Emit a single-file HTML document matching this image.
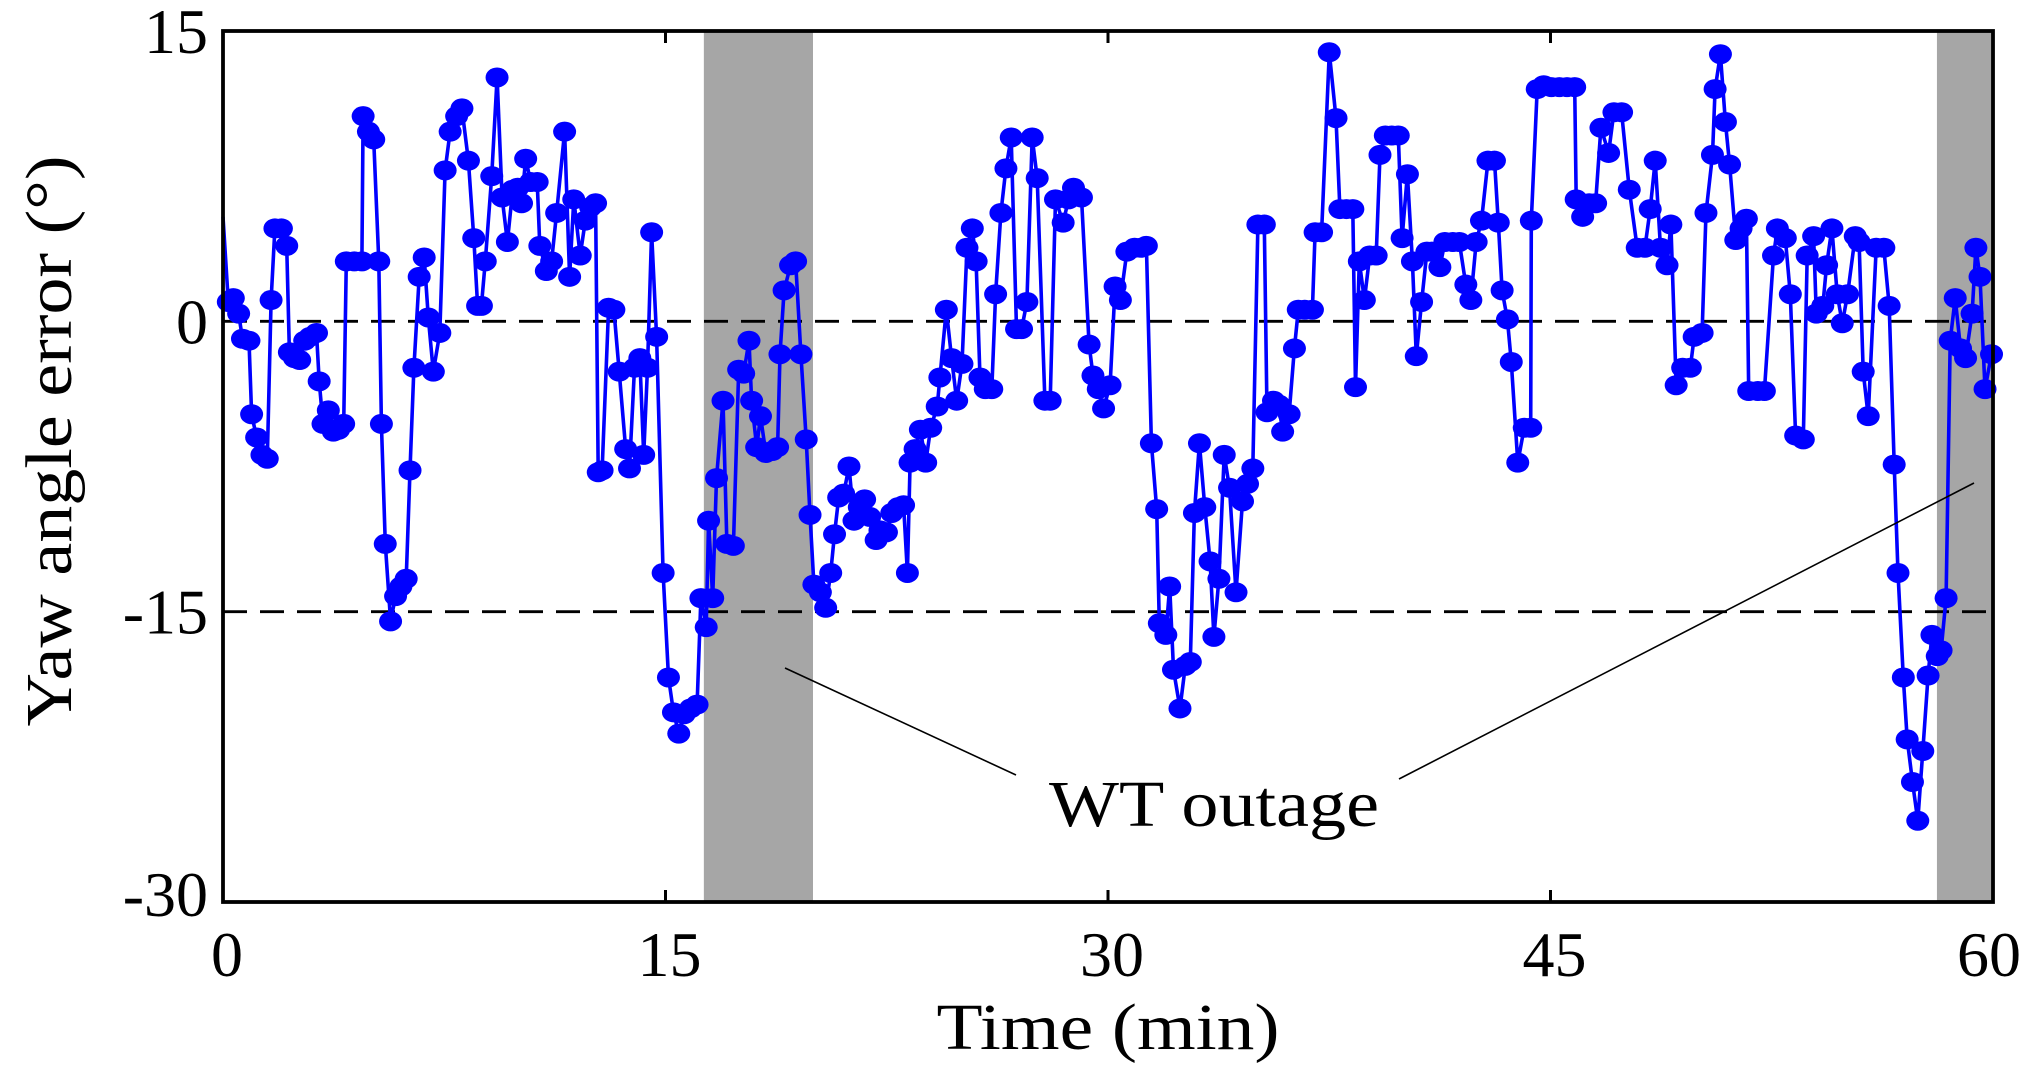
<!DOCTYPE html>
<html><head><meta charset="utf-8"><style>
html,body{margin:0;padding:0;background:#fff}
svg{display:block}
text{font-family:"Liberation Serif",serif;fill:#000}
</style></head><body>
<svg id="chart" width="2035" height="1081" viewBox="0 0 2035 1081" xmlns="http://www.w3.org/2000/svg">
<g id="shade"></g>
<g id="grid"></g>
<g id="series"></g>
<g id="axes"></g>
<text x="0" y="0" font-size="66" text-anchor="middle" textLength="571" lengthAdjust="spacingAndGlyphs" transform="translate(71,441) rotate(-90)">Yaw angle error (°)</text>
<text x="1108" y="1049" font-size="66" text-anchor="middle" textLength="343" lengthAdjust="spacingAndGlyphs">Time (min)</text>
<text x="1214" y="826" font-size="66" text-anchor="middle" textLength="330" lengthAdjust="spacingAndGlyphs">WT outage</text>
<line x1="785" y1="668" x2="1016" y2="775" stroke="#000" stroke-width="1.6"/>
<line x1="1399" y1="779" x2="1974" y2="483" stroke="#000" stroke-width="1.6"/>
</svg>
<script>
const times=[0,0.18,0.35,0.53,0.66,0.88,0.97,1.14,1.32,1.50,1.63,1.76,1.98,2.16,2.25,2.42,2.60,2.77,2.95,3.17,3.26,3.39,3.57,3.74,3.92,4.09,4.18,4.45,4.71,4.75,4.93,5.11,5.28,5.37,5.50,5.68,5.85,6.03,6.21,6.34,6.47,6.65,6.82,6.96,7.13,7.35,7.53,7.70,7.92,8.10,8.32,8.50,8.63,8.76,8.89,9.11,9.29,9.46,9.64,9.82,9.99,10.12,10.26,10.43,10.65,10.74,10.96,11.14,11.31,11.58,11.75,11.89,12.11,12.28,12.46,12.63,12.72,12.85,13.07,13.25,13.43,13.65,13.78,13.95,14.13,14.26,14.39,14.53,14.70,14.92,15.10,15.27,15.45,15.63,15.85,16.07,16.20,16.38,16.46,16.60,16.73,16.95,17.08,17.30,17.48,17.65,17.83,17.92,18.09,18.22,18.40,18.62,18.80,18.88,19.02,19.24,19.41,19.59,19.77,19.90,20.03,20.25,20.43,20.60,20.73,20.87,21.04,21.22,21.39,21.57,21.75,21.92,22.14,22.27,22.49,22.67,22.89,23.07,23.20,23.29,23.46,23.64,23.82,23.99,24.21,24.30,24.52,24.70,24.87,25.05,25.22,25.40,25.53,25.66,25.84,26.06,26.19,26.37,26.54,26.72,26.90,27.07,27.25,27.43,27.60,27.86,28.04,28.22,28.48,28.66,28.83,29.10,29.36,29.49,29.67,29.85,30.07,30.24,30.42,30.64,30.90,31.12,31.30,31.47,31.65,31.74,31.96,32.09,32.22,32.44,32.62,32.79,32.93,33.10,33.28,33.46,33.59,33.76,33.94,34.12,34.34,34.56,34.73,34.91,35.08,35.30,35.39,35.61,35.79,35.92,36.14,36.32,36.45,36.67,36.93,37.02,37.24,37.50,37.73,37.86,38.08,38.30,38.39,38.52,38.69,38.87,39.09,39.22,39.40,39.62,39.84,39.97,40.15,40.32,40.45,40.63,40.81,40.98,41.25,41.42,41.69,41.91,42.13,42.30,42.48,42.66,42.88,43.10,43.23,43.36,43.54,43.67,43.89,44.11,44.33,44.35,44.55,44.77,45.03,45.30,45.56,45.82,45.87,46.09,46.31,46.53,46.71,46.97,47.15,47.41,47.67,47.94,48.20,48.38,48.55,48.73,48.95,49.08,49.26,49.48,49.74,49.87,50.14,50.27,50.49,50.58,50.76,50.93,51.07,51.28,51.46,51.64,51.72,52.03,52.25,52.56,52.69,52.96,53.13,53.31,53.57,53.70,53.92,54.01,54.23,54.36,54.54,54.72,54.89,55.07,55.33,55.46,55.60,55.77,56.04,56.30,56.48,56.65,56.78,56.96,57.09,57.27,57.45,57.62,57.80,57.93,58.11,58.24,58.41,58.55,58.72,58.90,59.07,59.29,59.42,59.56,59.73,59.95];
const yawError=[5.4,1.0,1.2,0.4,-0.9,-1.0,-4.8,-6.0,-6.9,-7.1,1.1,4.8,4.8,3.9,-1.6,-1.9,-2.0,-1.0,-0.8,-0.6,-3.1,-5.3,-4.6,-5.7,-5.6,-5.3,3.1,3.1,3.1,10.6,9.8,9.4,3.1,-5.3,-11.5,-15.5,-14.2,-13.7,-13.3,-7.7,-2.4,2.3,3.3,0.2,-2.6,-0.6,7.8,9.8,10.6,11.0,8.3,4.3,0.8,0.8,3.1,7.5,12.6,6.4,4.1,6.8,6.9,6.1,8.4,7.2,7.2,3.9,2.6,3.1,5.6,9.8,2.3,6.3,3.4,5.2,5.9,6.1,-7.8,-7.7,0.7,0.6,-2.6,-6.6,-7.6,-2.4,-1.9,-6.9,-2.4,4.6,-0.8,-13.0,-18.4,-20.2,-21.3,-20.3,-20.0,-19.8,-14.3,-15.8,-10.3,-14.3,-8.1,-4.1,-11.5,-11.6,-2.5,-2.7,-1.0,-4.1,-6.5,-4.9,-6.8,-6.7,-6.5,-1.7,1.6,2.9,3.1,-1.7,-6.1,-10.0,-13.6,-14.0,-14.8,-13.0,-11.0,-9.1,-8.9,-7.5,-10.3,-9.6,-9.2,-10.1,-11.3,-10.8,-10.9,-9.9,-9.6,-9.5,-13.0,-7.3,-6.6,-5.6,-7.3,-5.5,-4.4,-2.9,0.6,-1.9,-4.1,-2.2,3.8,4.8,3.1,-2.9,-3.5,-3.5,1.4,5.6,7.9,9.5,-0.4,-0.4,1.0,9.5,7.4,-4.1,-4.1,6.3,5.1,6.3,6.9,6.4,-1.2,-2.8,-3.5,-4.5,-3.3,1.8,1.1,3.6,3.8,3.8,3.9,-6.3,-9.7,-15.6,-16.2,-13.7,-18.0,-20.0,-17.8,-17.6,-9.9,-6.3,-9.6,-12.4,-16.3,-13.3,-6.9,-8.6,-14.0,-9.3,-8.4,-7.6,5.0,5.0,-4.7,-4.1,-4.3,-5.7,-4.8,-1.4,0.6,0.6,0.6,4.6,4.6,13.9,10.5,5.8,5.8,5.8,-3.4,3.1,1.1,3.4,3.4,8.6,9.6,9.6,9.6,4.3,7.6,3.1,-1.8,1.0,3.6,3.6,2.8,4.1,4.1,4.1,1.9,1.1,4.1,5.2,8.3,8.3,5.1,1.6,0.1,-2.1,-7.3,-5.5,-5.5,5.2,12.0,12.2,12.1,12.1,12.1,12.1,6.3,5.4,6.1,6.1,10.0,8.7,10.8,10.8,6.8,3.8,3.8,5.8,8.3,3.8,2.9,5.0,-3.3,-2.4,-2.4,-0.8,-0.6,5.6,8.6,12.0,13.8,10.3,8.1,4.2,4.8,5.3,-3.6,-3.6,-3.6,3.4,4.8,4.3,1.4,-5.9,-6.1,3.4,4.4,0.4,0.8,2.9,4.8,1.4,-0.1,1.4,4.4,4.1,-2.6,-4.9,3.8,3.8,0.8,-7.4,-13.0,-18.4,-21.6,-23.8,-25.8,-22.2,-18.3,-16.2,-17.3,-17.0,-14.3,-1.0,1.2,-1.4,-1.9,0.4,3.8,2.3,-3.5,-1.7];
const outageStarts=[16.3,58.1];
const outageEnds=[20.0,60];
const refLines=[0,-15];
const xTicks=[0,15,30,45,60];
const yTicks=[15,0,-15,-30];
const yTickLabels=["15","0","-15","-30"];

const NS="http://www.w3.org/2000/svg";
const L=223,R=1993,T=31,B=902,X0=0,X1=60,Y0=-30,Y1=15;
const xs=v=>L+(v-X0)/(X1-X0)*(R-L);
const ys=v=>B-(v-Y0)/(Y1-Y0)*(B-T);
function mk(tag,attrs,parent){const e=document.createElementNS(NS,tag);for(const k in attrs)e.setAttribute(k,attrs[k]);parent.appendChild(e);return e;}

const shade=document.getElementById('shade');
outageStarts.forEach((s,i)=>{
  const r=mk('rect',{x:xs(s),y:T,width:xs(outageEnds[i])-xs(s),height:B-T,fill:'#a6a6a6'},shade);
  
  
});
const grid=document.getElementById('grid');
refLines.forEach(v=>{
  const l=mk('line',{x1:L,x2:R,y1:ys(v),y2:ys(v),stroke:'#000','stroke-width':2.8,'stroke-dasharray':'24,13'},grid);
  
  
});
const series=document.getElementById('series');
const pts=times.map((t,i)=>xs(t).toFixed(1)+','+ys(yawError[i]).toFixed(1)).join(' ');
const pl=mk('polyline',{points:pts,fill:'none',stroke:'#0000ff','stroke-width':3.6,'stroke-linejoin':'round'},series);


times.forEach((t,i)=>{
  if(i===0)return;
  const c=mk('ellipse',{cx:xs(t),cy:ys(yawError[i]),rx:11.5,ry:10,fill:'#0000ff'},series);
  
  
});
const axes=document.getElementById('axes');
const fr=mk('rect',{x:L,y:T,width:R-L,height:B-T,fill:'none',stroke:'#000','stroke-width':3.8},axes);


xTicks.forEach(v=>{
  if(v>X0&&v<X1){
    const a=mk('line',{x1:xs(v),x2:xs(v),y1:T,y2:T+12,stroke:'#000','stroke-width':3},axes);
    
    
    const b=mk('line',{x1:xs(v),x2:xs(v),y1:B,y2:B-12,stroke:'#000','stroke-width':3},axes);
    
    
  }
  const tx=mk('text',{x:xs(v)+(v===X1?-4:4),y:976,'font-size':64,'text-anchor':'middle'},axes);
  tx.textContent=String(v);
  
  
});
yTicks.forEach((v,i)=>{
  const tx=mk('text',{x:208,y:ys(v)+(v===Y0?14:22),'font-size':64,'text-anchor':'end'},axes);
  tx.textContent=yTickLabels[i];
  
  
});
</script>
</body></html>
